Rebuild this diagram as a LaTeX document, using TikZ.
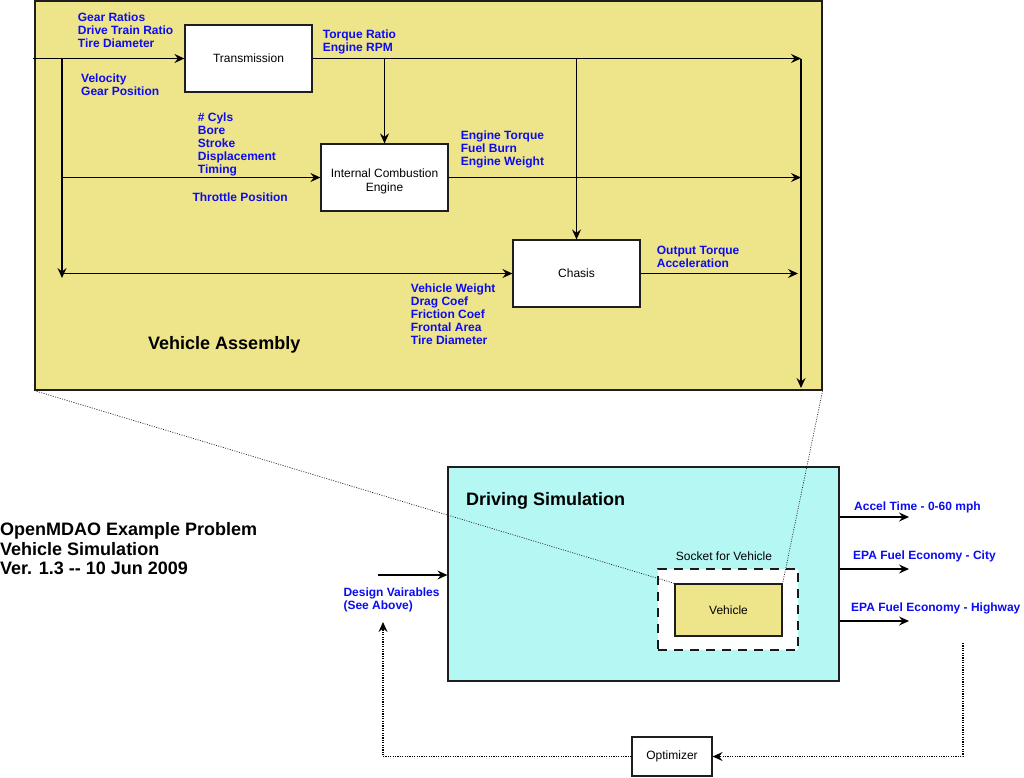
\documentclass[tikz,border=0pt]{standalone}
\usepackage{fontspec}
\setmainfont{Liberation Sans}
\usetikzlibrary{arrows.meta}
\definecolor{vyellow}{RGB}{238,229,138}
\definecolor{scyan}{RGB}{181,247,243}
\definecolor{lblue}{RGB}{12,12,240}
\definecolor{edge}{RGB}{30,30,30}
\begin{document}
\begin{tikzpicture}[x=1pt,y=-1pt,
  tip/.style={-{Stealth[length=10pt,width=9pt,inset=3.5pt]}},
  flow/.style={line width=1.2pt, draw=black, tip},
  loopline/.style={line width=1.2pt, draw=black, dash pattern=on 1.2pt off 1.2pt, tip},
  proj/.style={line width=0.7pt, draw=black!85, dash pattern=on 1pt off 1.4pt},
  blockbox/.style={draw=edge, line width=1.2pt, fill=white, inner sep=0pt,
    font=\fontsize{12}{14}\selectfont, align=center},
  lbl/.style={text=lblue, font=\fontsize{12}{13}\selectfont\bfseries, align=left,
    anchor=north west, inner sep=0pt},
  ttl/.style={font=\fontsize{18}{19.5}\selectfont\bfseries, align=left,
    anchor=north west, inner sep=0pt},
  plain/.style={font=\fontsize{12}{14}\selectfont, inner sep=0pt}
]
\useasboundingbox (0,0) rectangle (1024,777);
\fill[white] (0,0) rectangle (1024,777);

% ---------- Vehicle Assembly ----------
\node[draw=edge, line width=1.2pt, fill=vyellow, minimum width=787pt, minimum height=389pt,
  inner sep=0pt] (va) at (428.5,195.5) {};

\node[blockbox, minimum width=127pt, minimum height=67pt] (trans) at (248.5,58.5) {Transmission};
\node[blockbox, minimum width=127pt, minimum height=67pt, inner ysep=0pt] (ice) at (384.5,177.5) {};
\node[plain, align=center] (icetext) at (384.5,181) {Internal Combustion\\Engine};
\node[blockbox, minimum width=127pt, minimum height=67pt] (chasis) at (576.5,273.5) {Chasis};

\coordinate (in1) at (33,58.5);
\coordinate (rt) at (801,58.5);
\coordinate (rb) at (801,388);
\coordinate (lt) at (62,58.5);
\coordinate (lb) at (62,278);
\coordinate (lbh) at (63,273.5);
\coordinate (chout) at (798,273.5);

\draw[flow] (in1) -- (trans.west);
\draw[flow] (trans.east) -- (rt);
\draw[flow] (trans.east -| ice.north) -- (ice.north);
\draw[flow] (trans.east -| chasis.north) -- (chasis.north);
\draw[flow] (rt) -- (rb);
\draw[flow] (lt) -- (lb);
\draw[flow] (lbh) -- (chasis.west);
\draw[flow] (lt |- ice.west) -- (ice.west);
\draw[flow] (ice.east) -- (ice.east -| rt);
\draw[flow] (chasis.east) -- (chout);

\node[lbl] (lgear) at (77.7,13.1) {Gear Ratios\\Drive Train Ratio\\Tire Diameter};
\node[lbl] (lvel) at (81,73.1) {Velocity\\Gear Position};
\node[lbl] (ltorq) at (322.7,29.4) {Torque Ratio\\Engine RPM};
\node[lbl] (lcyl) at (197.7,112.3) {\# Cyls\\Bore\\Stroke\\Displacement\\Timing};
\node[lbl] (lthr) at (192.3,192.3) {Throttle Position};
\node[lbl] (leng) at (460.7,130.1) {Engine Torque\\Fuel Burn\\Engine Weight};
\node[lbl] (lout) at (656.7,246.3) {Output Torque\\Acceleration};
\node[lbl] (lveh) at (410.7,283.6) {Vehicle Weight\\Drag Coef\\Friction Coef\\Frontal Area\\Tire Diameter};
\node[ttl] (tva) at (148,336.5) {Vehicle Assembly};

% ---------- Driving Simulation ----------
\node[draw=edge, line width=1.2pt, fill=scyan, minimum width=391pt, minimum height=214pt,
  inner sep=0pt] (sim) at (643.5,574) {};
\node[ttl] (tsim) at (466,492) {Driving Simulation};
\node[draw=black!90, line width=2pt, dash pattern=on 9pt off 7pt, fill=white,
  minimum width=140pt, minimum height=81pt, inner sep=0pt] (sock) at (728,609.5) {};
\node[plain] (lsock) at (724,556) {Socket for Vehicle};
\node[blockbox, fill=vyellow, minimum width=107pt, minimum height=52pt] (veh) at (728.5,610) {Vehicle};

\node[blockbox, minimum width=80pt, minimum height=39pt] (opt) at (672,756.5) {Optimizer};

\coordinate (dvin) at (378,575);
\draw[flow] (dvin) -- (dvin -| sim.west);
\coordinate (o1) at (909,517);
\coordinate (o2) at (909,569);
\coordinate (o3) at (909,621);
\draw[flow] (o1 -| sim.east) -- (o1);
\draw[flow] (o2 -| sim.east) -- (o2);
\draw[flow] (o3 -| sim.east) -- (o3);

\node[lbl] (la1) at (854,501.6) {Accel Time - 0-60 mph};
\node[lbl] (la2) at (853,550.6) {EPA Fuel Economy - City};
\node[lbl] (la3) at (851,602.6) {EPA Fuel Economy - Highway};
\node[lbl] (ldv) at (343.3,587.6) {Design Vairables\\(See Above)};

\coordinate (fb) at (963,643);
\coordinate (dvup) at (383,622);
\draw[loopline] (fb) |- (opt.east);
\draw[loopline] (opt.west) -| (dvup);

\draw[proj] (va.south west) -- (veh.north west);
\draw[proj] (va.south east) -- (veh.north east);

\node[ttl] (tmain) at (0,522.5) {OpenMDAO Example Problem\\Vehicle Simulation\\Ver. 1.3 -{}- 10 Jun 2009};
\end{tikzpicture}
\end{document}
